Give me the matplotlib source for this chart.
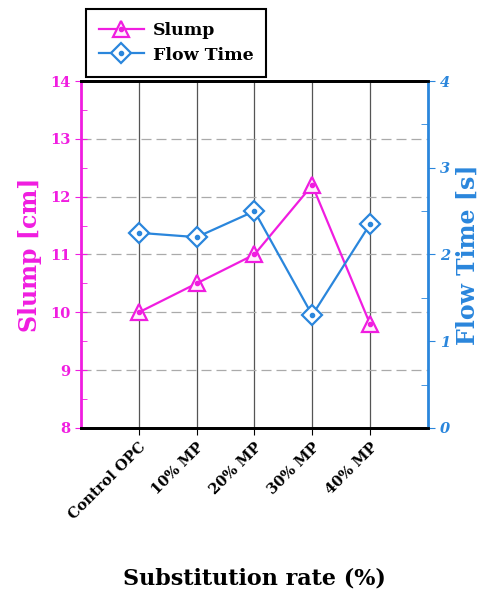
import matplotlib
matplotlib.use("Agg")
import matplotlib.pyplot as plt
from matplotlib.legend_handler import HandlerTuple
from matplotlib.ticker import MultipleLocator

categories = ["Control OPC", "10% MP", "20% MP", "30% MP", "40% MP"]
slump = [10.0, 10.5, 11.0, 12.2, 9.8]
flow_time = [2.25, 2.2, 2.5, 1.3, 2.35]

MAG = "#f01de0"
BLUE = "#2a86dc"
plt.rcParams['font.family'] = ['DejaVu Serif']
plt.rcParams['font.weight'] = 'bold'

fig = plt.figure(figsize=(4.98, 5.96), dpi=100)
ax = fig.add_axes([0.163, 0.282, 0.696, 0.582])
ax2 = ax.twinx()

x = list(range(1, len(categories) + 1))
ax.set_xlim(0, 6)
ax.set_ylim(8, 14)
ax2.set_ylim(0, 4)

for xi in x:
    ax.axvline(xi, color="#555555", lw=0.9, zorder=0)
for yv in [9, 10, 11, 12, 13]:
    ax.axhline(yv, color="#aaaaaa", lw=0.9, ls=(0, (8, 4)), zorder=0)

l1, = ax.plot(x, slump, color=MAG, lw=1.6, marker="^", ms=11, mfc="#fff0fc",
              mec=MAG, mew=1.6, zorder=3)
d1, = ax.plot(x, slump, ls="none", marker="o", ms=3, color=MAG, zorder=4)
l2, = ax2.plot(x, flow_time, color=BLUE, lw=1.6, marker="D", ms=10, mfc="white",
               mec=BLUE, mew=1.6, zorder=3)
d2, = ax2.plot(x, flow_time, ls="none", marker="o", ms=3, color=BLUE, zorder=4)

ax.set_xticks(x)
ax.set_xticklabels(categories, rotation=45, ha="right", rotation_mode="anchor",
                   fontsize=10.5, fontweight="bold")
ax.tick_params(axis="x", direction="out", length=5, color="black")

ax.yaxis.set_major_locator(MultipleLocator(1))
ax.yaxis.set_minor_locator(MultipleLocator(0.5))
ax.tick_params(axis="y", which="major", direction="inout", length=8, color=MAG,
               labelcolor=MAG, labelsize=10.5)
ax.tick_params(axis="y", which="minor", direction="in", length=4, color=MAG)
for lab in ax.get_yticklabels():
    lab.set_fontweight("bold")

ax2.yaxis.set_major_locator(MultipleLocator(1))
ax2.yaxis.set_minor_locator(MultipleLocator(0.5))
ax2.tick_params(axis="y", which="major", direction="out", length=5, color=BLUE,
                labelcolor=BLUE, labelsize=10.5)
ax2.tick_params(axis="y", which="minor", direction="in", length=5, color=BLUE)
for lab in ax2.get_yticklabels():
    lab.set_fontweight("bold")
    lab.set_fontstyle("italic")

ax.spines["left"].set_color(MAG)
ax.spines["left"].set_linewidth(2)
ax2.spines["left"].set_visible(False)
ax2.spines["right"].set_color(BLUE)
ax2.spines["right"].set_linewidth(2)
for s in ["top", "bottom"]:
    ax.spines[s].set_linewidth(2)
    ax2.spines[s].set_linewidth(2)
ax.spines["right"].set_visible(False)

ax.set_ylabel("Slump [cm]", color=MAG, fontsize=17, fontweight="bold", labelpad=6)
ax2.set_ylabel("Flow Time [s]", color=BLUE, fontsize=17, fontweight="bold", labelpad=4)
fig.text(0.51, 0.03, "Substitution rate (%)", ha="center", va="center",
         fontsize=16, fontweight="bold")

leg = fig.legend([(l1, d1), (l2, d2)], ["Slump", "Flow Time"],
                 handler_map={tuple: HandlerTuple(ndivide=1, pad=0)},
                 loc="upper left", bbox_to_anchor=(0.155, 1.0),
                 fancybox=False, edgecolor="black", framealpha=1,
                 prop={"weight": "bold", "size": 12.5}, handlelength=2.6,
                 borderpad=0.75, labelspacing=0.45, handletextpad=0.5)
leg.get_frame().set_linewidth(1.5)

fig.savefig("out.png", dpi=100)
